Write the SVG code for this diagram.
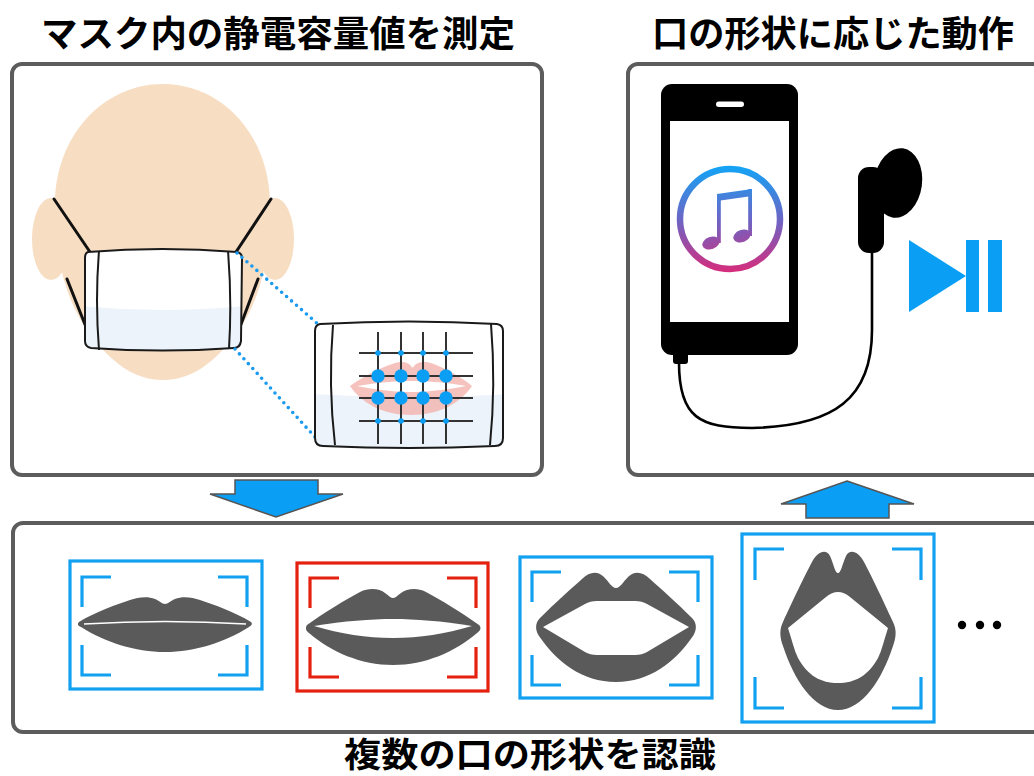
<svg xmlns="http://www.w3.org/2000/svg" width="1034" height="776" viewBox="0 0 1034 776">
  <style>
    .panel { fill: #ffffff; stroke: #5c5c5c; stroke-width: 4; }
    .title { font-family: "Noto Sans CJK JP", "Noto Sans CJK SC", sans-serif; font-weight: 700; font-size: 36px; fill: #000; text-anchor: middle; }
    .caption { font-size: 34px; }
    .skin { fill: #f7ddc2; }
    .strap { stroke: #111; stroke-width: 3; fill: none; stroke-linecap: round; }
    .maskline { stroke: #1a1a1a; stroke-width: 2; fill: none; }
    .dots { stroke: #1a9af0; stroke-width: 3.6; stroke-dasharray: 0 6.6; stroke-linecap: round; fill: none; }
    .grid { stroke: #333; stroke-width: 2; }
    .sensor { fill: #0a9ef5; }
    .frame-blue { fill: none; stroke: #12a0f0; stroke-width: 3.2; }
    .frame-red { fill: none; stroke: #e4200e; stroke-width: 3.2; }
    .lip { fill: #5a5a5a; }
    .arrow { fill: #0a9ef5; stroke: #555; stroke-width: 1.5; stroke-linejoin: miter; }
  </style>
  <defs>
    <linearGradient id="tunes" x1="0" y1="166" x2="0" y2="272" gradientUnits="userSpaceOnUse">
      <stop offset="0" stop-color="#12a4f6"/>
      <stop offset="0.5" stop-color="#6a66c6"/>
      <stop offset="1" stop-color="#d62c7c"/>
    </linearGradient>
    <clipPath id="faceMaskClip">
      <path d="M88,252 Q162,246 237,252 Q242,253 242,258 L241,341 Q240,348 234,348 Q162,353 91,348 Q85,347 85,341 L85,258 Q85,253 88,252 Z"/>
    </clipPath>
    <clipPath id="bigMaskClip">
      <path d="M320,324 Q409,319 497,324 Q503,325 503,331 L503,438 Q503,446 495,446 Q409,450 323,446 Q315,446 315,438 L315,331 Q315,325 320,324 Z"/>
    </clipPath>
  </defs>

  <!-- titles -->
  <text class="title" x="278" y="47" textLength="474" lengthAdjust="spacingAndGlyphs">マスク内の静電容量値を測定</text>
  <text class="title" x="833" y="47" textLength="362" lengthAdjust="spacingAndGlyphs">口の形状に応じた動作</text>
  <text class="title caption" x="530" y="767" textLength="372" lengthAdjust="spacingAndGlyphs">複数の口の形状を認識</text>

  <!-- panel: capacitance measured inside the mask -->
  <g id="panel-measure">
    <rect class="panel" x="12" y="64" width="530" height="411" rx="10"/>
    <!-- ears and head -->
    <ellipse class="skin" cx="51" cy="239" rx="19" ry="41"/>
    <ellipse class="skin" cx="275" cy="239" rx="19" ry="41"/>
    <path class="skin" d="M163,84 C222,84 270,135 270,205 C270,265 258,305 235,335 C215,362 192,380 163,380 C134,380 111,362 91,335 C68,305 55,265 55,205 C55,135 104,84 163,84 Z"/>
    <!-- ear loops -->
    <line class="strap" x1="54" y1="199" x2="90" y2="252"/>
    <line class="strap" x1="67" y1="279" x2="86" y2="327"/>
    <line class="strap" x1="271" y1="199" x2="236" y2="252"/>
    <line class="strap" x1="258" y1="279" x2="240" y2="327"/>
    <!-- mask on face -->
    <path d="M88,252 Q162,246 237,252 Q242,253 242,258 L241,341 Q240,348 234,348 Q162,353 91,348 Q85,347 85,341 L85,258 Q85,253 88,252 Z" fill="#fff"/>
    <path clip-path="url(#faceMaskClip)" d="M80,306 Q162,314 245,306 L245,360 L80,360 Z" fill="#edf3fa"/>
    <path class="maskline" d="M88,252 Q162,246 237,252 Q242,253 242,258 L241,341 Q240,348 234,348 Q162,353 91,348 Q85,347 85,341 L85,258 Q85,253 88,252 Z"/>
    <path class="maskline" d="M99,251 Q95,300 99,350"/>
    <path class="maskline" d="M228,251 Q232,300 229,349"/>
    <!-- magnification guide -->
    <line class="dots" x1="237" y1="253" x2="319" y2="325"/>
    <line class="dots" x1="235" y1="349" x2="315" y2="437"/>
    <!-- magnified mask with electrode grid -->
    <path d="M320,324 Q409,319 497,324 Q503,325 503,331 L503,438 Q503,446 495,446 Q409,450 323,446 Q315,446 315,438 L315,331 Q315,325 320,324 Z" fill="#fff"/>
    <path clip-path="url(#bigMaskClip)" d="M310,394 Q409,400 510,394 L510,455 L310,455 Z" fill="#edf3fa"/>
    <g opacity="0.8">
      <path fill="#f4b4ad" d="M350,386 C365,375 385,366 395,363 C402,361 408,362 411,366 C412,368 413,368 414,366 C417,362 424,361 431,363 C443,367 460,376 472,386 C460,403 440,415 411,415 C382,415 362,403 350,386 Z"/>
      <path fill="#fff" d="M357,386 C380,382 400,381 411,381 C422,381 445,382 466,386 C445,390 425,392 411,392 C397,392 378,390 357,386 Z"/>
    </g>
    <path class="maskline" d="M320,324 Q409,319 497,324 Q503,325 503,331 L503,438 Q503,446 495,446 Q409,450 323,446 Q315,446 315,438 L315,331 Q315,325 320,324 Z"/>
    <path class="maskline" d="M333,325 Q328,385 335,445"/>
    <path class="maskline" d="M491,324 Q496,385 490,445"/>
    <g class="grid">
      <line x1="378" y1="332" x2="378" y2="444"/>
      <line x1="401" y1="332" x2="401" y2="444"/>
      <line x1="423" y1="332" x2="423" y2="444"/>
      <line x1="446" y1="332" x2="446" y2="444"/>
      <line x1="359" y1="353" x2="473" y2="353"/>
      <line x1="359" y1="376" x2="473" y2="376"/>
      <line x1="359" y1="398" x2="473" y2="398"/>
      <line x1="359" y1="421" x2="473" y2="421"/>
    </g>
    <g class="sensor">
      <circle cx="378" cy="353" r="2.8"/><circle cx="401" cy="353" r="2.8"/><circle cx="423" cy="353" r="2.8"/><circle cx="446" cy="353" r="2.8"/>
      <circle cx="378" cy="376" r="6.7"/><circle cx="401" cy="376" r="6.7"/><circle cx="423" cy="376" r="6.7"/><circle cx="446" cy="376" r="6.7"/>
      <circle cx="378" cy="398" r="6.7"/><circle cx="401" cy="398" r="6.7"/><circle cx="423" cy="398" r="6.7"/><circle cx="446" cy="398" r="6.7"/>
      <circle cx="378" cy="421" r="2.8"/><circle cx="401" cy="421" r="2.8"/><circle cx="423" cy="421" r="2.8"/><circle cx="446" cy="421" r="2.8"/>
    </g>
  </g>

  <!-- panel: action triggered by mouth shape -->
  <g id="panel-action">
    <rect class="panel" x="628" y="64" width="430" height="411" rx="10"/>
    <!-- smartphone -->
    <rect x="661" y="84" width="137" height="271" rx="11" fill="#000"/>
    <rect x="716" y="101.5" width="28" height="5.5" rx="2.75" fill="#fff"/>
    <rect x="670" y="121" width="119" height="201" fill="#fff"/>
    <rect x="673" y="351" width="15" height="13" rx="3" fill="#000"/>
    <!-- music icon -->
    <circle cx="730" cy="219" r="50" fill="none" stroke="url(#tunes)" stroke-width="6.5"/>
    <g fill="url(#tunes)">
      <path d="M717,194 L752,189 L752,196 L717,201 Z"/>
      <rect x="717" y="194" width="3.8" height="49"/>
      <rect x="748.2" y="189" width="3.8" height="47"/>
      <ellipse cx="711" cy="243" rx="9" ry="6" transform="rotate(-20 711 243)"/>
      <ellipse cx="742" cy="236" rx="9" ry="6" transform="rotate(-20 742 236)"/>
    </g>
    <!-- cable and earbud -->
    <path d="M679,363 C679,418 700,428 752,428 C835,426 872,398 872,330 L872,250" fill="none" stroke="#000" stroke-width="2.6"/>
    <ellipse cx="898" cy="183" rx="24" ry="35" transform="rotate(8 898 183)" fill="#000"/>
    <rect x="858" y="167" width="26" height="86" rx="11" fill="#000"/>
    <!-- play / pause -->
    <g fill="#0a9ef5">
      <path d="M909,240 L966,276 L909,312 Z"/>
      <rect x="966" y="240" width="13" height="72"/>
      <rect x="988" y="240" width="14" height="72"/>
    </g>
  </g>

  <!-- panel: recognition of several mouth shapes -->
  <g id="panel-recognize">
    <rect class="panel" x="13" y="523" width="1045" height="209" rx="10"/>
  </g>

  <g id="shape-closed">
    <rect class="frame-blue" x="70" y="561" width="192" height="128"/>
    <path class="frame-blue" d="M111,577 H82 V607 M218,577 H247 V607 M82,645 V675 H111 M247,645 V675 H218"/>
    <path class="lip" d="M79,622 C95,612 118,604 130,600 C138,597 148,596 155,599 C160,601 162,604 165,604 C168,604 170,601 175,599 C182,596 192,597 200,600 C212,604 235,612 251,622 C253,624 251,626 249,627 C225,642 195,652 165,652 C135,652 105,642 81,627 C78,626 77,624 79,622 Z"/>
    <path d="M84,624 Q165,619 246,624" fill="none" stroke="#fff" stroke-width="1.6"/>
  </g>

  <g id="shape-slight">
    <rect class="frame-red" x="297" y="563" width="191" height="128"/>
    <path class="frame-red" d="M339,578 H310 V608 M447,578 H476 V608 M310,647 V677 H339 M476,647 V677 H447"/>
    <path class="lip" d="M307,625 C325,612 345,600 360,592 C370,587 380,589 385,593 C389,596 391,598 393,598 C395,598 397,596 401,593 C407,589 416,587 426,592 C441,600 461,612 479,625 C482,628 480,631 477,633 C455,652 425,665 393,665 C361,665 331,652 309,633 C306,631 305,628 307,625 Z"/>
    <path fill="#fff" d="M314,626 C345,621 370,619 393,619 C416,619 441,621 472,626 C445,634 420,638 393,638 C366,638 341,634 314,626 Z"/>
  </g>

  <g id="shape-open">
    <rect class="frame-blue" x="520" y="557" width="192" height="141"/>
    <path class="frame-blue" d="M561,572 H532 V602 M669,572 H698 V602 M532,655 V685 H561 M698,655 V685 H669"/>
    <path class="lip" d="M540,618 C555,603 572,588 582,579 C590,571 598,571 604,577 C609,582 612,588 616,588 C620,588 623,582 628,577 C634,571 642,571 650,579 C660,588 677,603 692,618 C697,623 697,630 693,636 C675,662 650,682 616,682 C582,682 557,662 539,636 C535,630 535,623 540,618 Z"/>
    <path fill="#fff" d="M543,627 L585,604 Q590,601 597,601 L635,601 Q642,601 647,604 L689,627 L647,652 Q642,655 635,655 L597,655 Q590,655 585,652 Z"/>
  </g>

  <g id="shape-wide">
    <rect class="frame-blue" x="742" y="534" width="192" height="188"/>
    <path class="frame-blue" d="M784,549 H755 V580 M892,549 H921 V580 M755,677 V708 H784 M921,677 V708 H892"/>
    <path class="lip" d="M783,622 C793,600 805,575 812,562 C817,552 826,548 830,556 C834,565 835,573 838,573 C841,573 842,565 846,556 C850,548 859,552 864,562 C871,575 883,600 893,622 C897,630 896,638 893,646 C882,680 862,710 838,710 C814,710 794,680 783,646 C780,638 779,630 783,622 Z"/>
    <path fill="#fff" d="M788,628 L826,597 Q838,587 850,597 L888,628 C884,640 882,650 878,658 C868,676 855,683 838,683 C821,683 808,676 798,658 C794,650 792,640 788,628 Z"/>
  </g>

  <g id="more" fill="#000">
    <circle cx="962" cy="625" r="4.2"/>
    <circle cx="980" cy="625" r="4.2"/>
    <circle cx="997" cy="625" r="4.2"/>
  </g>

  <!-- flow arrows between panels -->
  <g id="connectors">
    <path class="arrow" d="M235,480 H318 V494 H343 L276,517 L210,494 H235 Z"/>
    <path class="arrow" d="M847,481 L914,504 H889 V518 H806 V504 H781 Z"/>
  </g>
</svg>
